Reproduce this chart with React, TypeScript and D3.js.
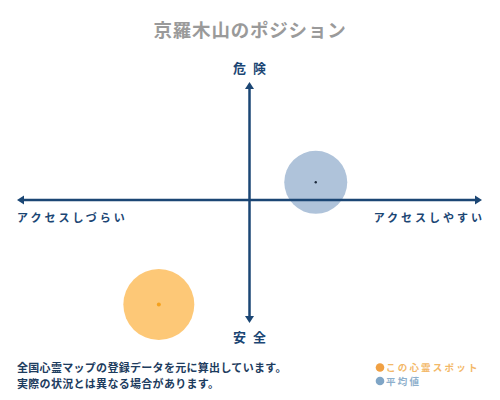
import React from 'react';
import * as d3 from 'd3';

// chart values
const seriesNames = ['この心霊スポット', '平均値'];
const accessValues = [-3.9, 2.85]; // x: アクセスしづらい(-) … アクセスしやすい(+)
const dangerValues = [-8.5, 1.5]; // y: 安全(-) … 危険(+)
const axisLabels = { top: '危 険', bottom: '安 全', left: 'アクセスしづらい', right: 'アクセスしやすい' };
const noteLines = ['全国心霊マップの登録データを元に算出しています。', '実際の状況とは異なる場合があります。'];

const W = 500;
const H = 400;
const AXIS = '#1b4674';
const FONT = '"Noto Sans CJK JP", "Noto Sans", sans-serif';

const fills = ['#fdc877', '#afc3da'];
const dots = ['#f5a11d', '#1c2a3c'];
const legendDot = ['#f0a043', '#7fa5c6'];
const legendText = ['#f3b868', '#8eafcc'];

export default function App() {
  const x = d3.scaleLinear().domain([-10, 0, 10]).range([17, 249.5, 482]);
  const y = d3.scaleLinear().domain([-10, 0, 10]).range([323, 200, 82]);
  const r = [35.5, 31.5];

  const x0 = x(-10);
  const x1 = x(10);
  const yb = y(-10);
  const yt = y(10);
  const cx = x(0);
  const cy = y(0);
  const ah = 7; // arrow head length
  const aw = 4.5;

  const points = seriesNames.map((name, i) => ({ name, ax: accessValues[i], dy: dangerValues[i], i }));

  return (
    <svg width={W} height={H} style={{ display: 'block', margin: -8, background: '#fff' }}>
      <text x={W / 2} y={37} textAnchor="middle" fontFamily={FONT} fontWeight="bold" fontSize={18.5}
        letterSpacing={0.8} fill="#9a9a9a">京羅木山のポジション</text>

      {/* bubbles */}
      {points.map(p => (
        <circle key={p.name} cx={x(p.ax)} cy={y(p.dy)} r={r[p.i]} fill={fills[p.i]} />
      ))}

      {/* axes */}
      <line x1={x0 + ah} x2={x1 - ah} y1={cy} y2={cy} stroke={AXIS} strokeWidth={2.5} />
      <path d={`M${x0},${cy} L${x0 + ah},${cy - aw} L${x0 + ah},${cy + aw} Z`} fill={AXIS} />
      <path d={`M${x1},${cy} L${x1 - ah},${cy - aw} L${x1 - ah},${cy + aw} Z`} fill={AXIS} />
      <line x1={cx} x2={cx} y1={yt + ah} y2={yb - ah} stroke={AXIS} strokeWidth={2.5} />
      <path d={`M${cx},${yt} L${cx - aw},${yt + ah} L${cx + aw},${yt + ah} Z`} fill={AXIS} />
      <path d={`M${cx},${yb} L${cx - aw},${yb - ah} L${cx + aw},${yb - ah} Z`} fill={AXIS} />

      {/* centre dots */}
      {points.map(p => (
        <circle key={p.name} cx={x(p.ax)} cy={y(p.dy)} r={p.i === 0 ? 2 : 1.2} fill={dots[p.i]} />
      ))}

      {/* axis labels */}
      <g fontFamily={FONT} fontWeight="bold" fill={AXIS}>
        <text x={cx + 1} y={73} textAnchor="middle" fontSize={13} letterSpacing={2}>{axisLabels.top}</text>
        <text x={cx + 1} y={342} textAnchor="middle" fontSize={13} letterSpacing={2}>{axisLabels.bottom}</text>
        <text x={17} y={222} fontSize={11} letterSpacing={3}>{axisLabels.left}</text>
        <text x={485} y={222} textAnchor="end" fontSize={11} letterSpacing={3}>{axisLabels.right}</text>
      </g>

      {/* notes */}
      <g fontFamily={FONT} fontWeight="bold" fill="#1d3c5e" fontSize={11} letterSpacing={0.3}>
        {noteLines.map((t, i) => (
          <text key={t} x={17} y={372 + i * 16}>{t}</text>
        ))}
      </g>

      {/* legend */}
      <g fontFamily={FONT} fontWeight="bold" fontSize={9.5} letterSpacing={2.2}>
        {seriesNames.map((n, i) => (
          <g key={n}>
            <circle cx={380} cy={367.5 + i * 13.5} r={4.3} fill={legendDot[i]} />
            <text x={386} y={371 + i * 13.5} fill={legendText[i]}>{n}</text>
          </g>
        ))}
      </g>
    </svg>
  );
}
